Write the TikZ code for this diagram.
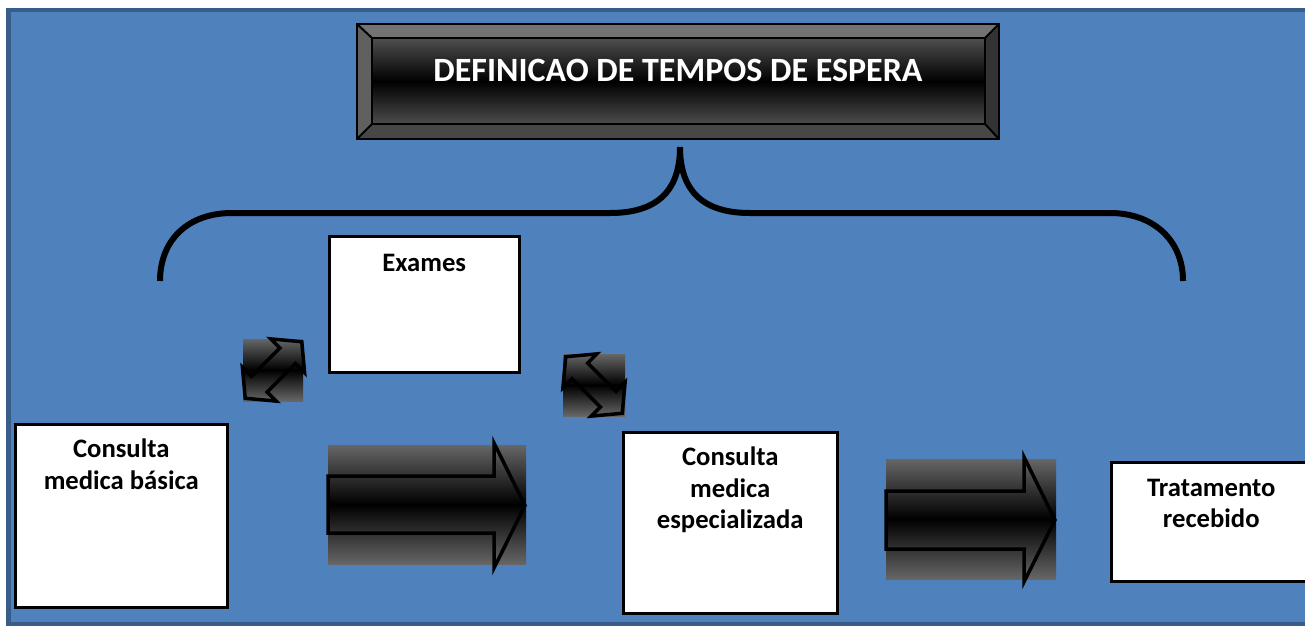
\documentclass[tikz,border=0pt]{standalone}
\usepackage{fontspec}
\setmainfont{Carlito}
\usetikzlibrary{%
  positioning,%
  calc%
}
\definecolor{fundo}{HTML}{4F81BD}
\definecolor{borda}{HTML}{385D8A}
\definecolor{cinza}{HTML}{666666}
\newdimen\pxu \pxu=0.75pt

\begin{document}
\begin{tikzpicture}[
  x=0.75pt, y=-0.75pt,
  line width=2\pxu,
  caixa/.style={draw=black, fill=white, line width=2.5\pxu, inner sep=0pt,
    anchor=north west, font=\fontsize{20}{23.3}\selectfont\bfseries},
  degrade/.style={top color=cinza, bottom color=cinza, middle color=black},
  seta/.style={draw=black, line width=3.5\pxu, line join=miter},
]
\useasboundingbox (0,0) rectangle (1305,626);
\draw[borda, fill=fundo, line width=4.5\pxu] (8.5,10) rectangle (1340,624);

% titulo
\node[degrade, draw=black, minimum width=640\pxu, minimum height=113\pxu,
  inner sep=0pt] (titulo) at (678,81.5) {};
\fill[gray!90!black] (358,25) -- (998,25) -- (985,38) -- (372,38) -- cycle;
\fill[gray!75!black] (358,25) -- (372,38) -- (372,124) -- (358,138) -- cycle;
\fill[black!80] (998,25) -- (985,38) -- (985,124) -- (998,138) -- cycle;
\fill[black!72] (358,138) -- (372,124) -- (985,124) -- (998,138) -- cycle;
\draw (372,38) rectangle (985,124);
\draw (titulo.north west) -- (372,38);
\draw (titulo.north east) -- (985,38);
\draw (titulo.south west) -- (372,124);
\draw (titulo.south east) -- (985,124);
\draw[line width=2.5\pxu] (titulo.north west) rectangle (titulo.south east);
\node[text=white, font=\fontsize{25.5}{30}\selectfont\bfseries] (txtitulo)
  at (678,70) {DEFINICAO DE TEMPOS DE ESPERA};

% chave
\coordinate (chave) at (680,147);
\draw[line width=6\pxu] (160,281) .. controls (160,240) and (188,213) .. (232,213)
  -- (610,213) .. controls (656,213) and (680,192) .. (chave)
  .. controls (680,192) and (704,213) .. (750,213)
  -- (1110,213) .. controls (1153,213) and (1183,240) .. (1183,281);

% caixas
\node[caixa] (exames) at (328,235)
  {\parbox[c][136\pxu][t]{190\pxu}{\centering\vspace*{18\pxu}Exames}};
\node[caixa] (basica) at (14,423)
  {\parbox[c][183\pxu][t]{212\pxu}{\centering\vspace*{15\pxu}Consulta\\medica básica}};
\node[caixa] (especial) at (622,431)
  {\parbox[c][181\pxu][t]{214\pxu}{\centering\vspace*{15\pxu}Consulta\\medica\\especializada}};
\node[caixa] (tratamento) at (1110,461)
  {\parbox[c][119\pxu][t]{200\pxu}{\centering\vspace*{17\pxu}Tratamento\\recebido}};

% setas grandes
\shade[degrade] (328,445) rectangle (526,564);
\draw[seta] (328,476) -- (494,476) -- (494,443) -- (525,505.5) -- (494,568)
  -- (494,533) -- (328,533) -- cycle;
\shade[degrade] (886,459) rectangle (1056,579);
\draw[seta] (886,491) -- (1024,491) -- (1024,457) -- (1055,520) -- (1024,582)
  -- (1024,549) -- (886,549) -- cycle;

% setas duplas
\shade[degrade] (243,339) rectangle (303,401);
\begin{scope}[shift={(273.5,370)}, rotate=45]
  \draw[seta] (-40,0) -- (-20,-24) -- (-20,-11) -- (20,-11) -- (20,-24) -- (40,0)
    -- (20,24) -- (20,11) -- (-20,11) -- (-20,24) -- cycle;
\end{scope}
\shade[degrade] (563,354) rectangle (625,416);
\begin{scope}[shift={(594,385)}, rotate=-45]
  \draw[seta] (-40,0) -- (-20,-24) -- (-20,-11) -- (20,-11) -- (20,-24) -- (40,0)
    -- (20,24) -- (20,11) -- (-20,11) -- (-20,24) -- cycle;
\end{scope}

\end{tikzpicture}
\end{document}
